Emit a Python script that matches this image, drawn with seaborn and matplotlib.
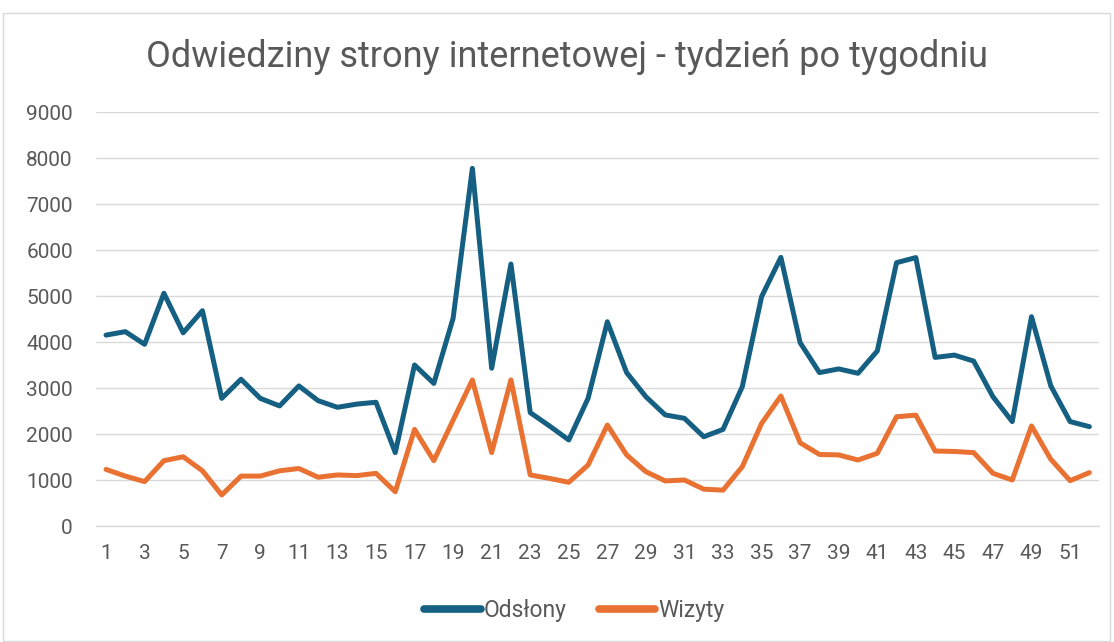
import numpy as np
import pandas as pd
import matplotlib
matplotlib.use("Agg")
import matplotlib.pyplot as plt
import seaborn as sns
from matplotlib.patches import Rectangle

weeks = list(range(1, 53))
odslony = [4150, 4225, 3950, 5060, 4200, 4680, 2775, 3190, 2775, 2610,
           3045, 2725, 2580, 2650, 2690, 1595, 3500, 3100, 4515, 7775,
           3430, 5695, 2465, 2175, 1870, 2775, 4440, 3335, 2810, 2415,
           2340, 1940, 2100, 3030, 4985, 5840, 3985, 3335, 3415, 3320,
           3805, 5725, 5835, 3665, 3715, 3585, 2810, 2270, 4550, 3045,
           2270, 2160]
wizyty = [1230, 1085, 965, 1420, 1505, 1200, 675, 1085, 1085, 1200,
          1250, 1060, 1110, 1095, 1145, 745, 2100, 1420, 2300, 3175,
          1595, 3175, 1110, 1035, 950, 1325, 2195, 1545, 1180, 980,
          1000, 800, 780, 1290, 2230, 2825, 1810, 1555, 1545, 1435,
          1580, 2375, 2410, 1630, 1620, 1595, 1145, 1000, 2175, 1450,
          985, 1160]
series_names = ["Odsłony", "Wizyty"]
colors = ["#156082", "#E97132"]
title = "Odwiedziny strony internetowej - tydzień po tygodniu"
y_ticks = list(range(0, 10000, 1000))
x_ticks = list(range(1, 53, 2))

df = pd.DataFrame({
    "Tydzień": weeks * 2,
    "Wartość": odslony + wizyty,
    "Seria": [series_names[0]] * len(weeks) + [series_names[1]] * len(weeks),
})

sns.set_theme(style="white")
plt.rcParams['font.family'] = ['Roboto', 'DejaVu Sans']
text_color = "#595959"

fig = plt.figure(figsize=(11.14, 6.42), dpi=100)
ax = fig.add_axes([96.4 / 1114, 1 - 526 / 642, (1099 - 96.4) / 1114, (526 - 112) / 642])

sns.lineplot(data=df, x="Tydzień", y="Wartość", hue="Seria",
             palette=colors, linewidth=3.6, ax=ax, legend=True)
for ln in ax.get_lines():
    ln.set_solid_capstyle("round")
    ln.set_solid_joinstyle("round")

ax.set_xlim(0.5, 52.5)
ax.set_ylim(0, 9000)
ax.set_yticks(y_ticks)
ax.set_yticklabels([str(v) for v in y_ticks])
ax.set_xticks(x_ticks)
ax.set_xticklabels([str(v) for v in x_ticks])
ax.grid(axis="y", color="#D9D9D9", linewidth=1.0)
ax.set_axisbelow(True)
for s in ["top", "right", "left"]:
    ax.spines[s].set_visible(False)
ax.spines["bottom"].set_color("#D9D9D9")
ax.spines["bottom"].set_linewidth(1.0)
ax.tick_params(axis="both", length=0, labelsize=15, colors=text_color)
ax.tick_params(axis="y", pad=17)
ax.tick_params(axis="x", pad=13)
ax.set_xlabel("")
ax.set_ylabel("")

handles, labels = ax.get_legend_handles_labels()
leg = ax.legend(handles, labels, loc="center", bbox_to_anchor=(0.477, -0.203),
                ncol=2, frameon=False, fontsize=16.5, handlelength=2.45,
                handletextpad=0.15, columnspacing=1.4, labelcolor=text_color)
for h in leg.get_lines():
    h.set_linewidth(5.5)
    h.set_solid_capstyle("round")

fig.text(567.5 / 1114, 1 - 57 / 642, title, ha="center", va="center",
         fontsize=26, color=text_color)

fig.patches.append(Rectangle((3 / 1114, 0.002), 1107 / 1114, 1 - 13 / 642 - 0.002,
                             transform=fig.transFigure, fill=False,
                             edgecolor="#D9D9D9", linewidth=1.0))

fig.savefig("out.png", dpi=100)
